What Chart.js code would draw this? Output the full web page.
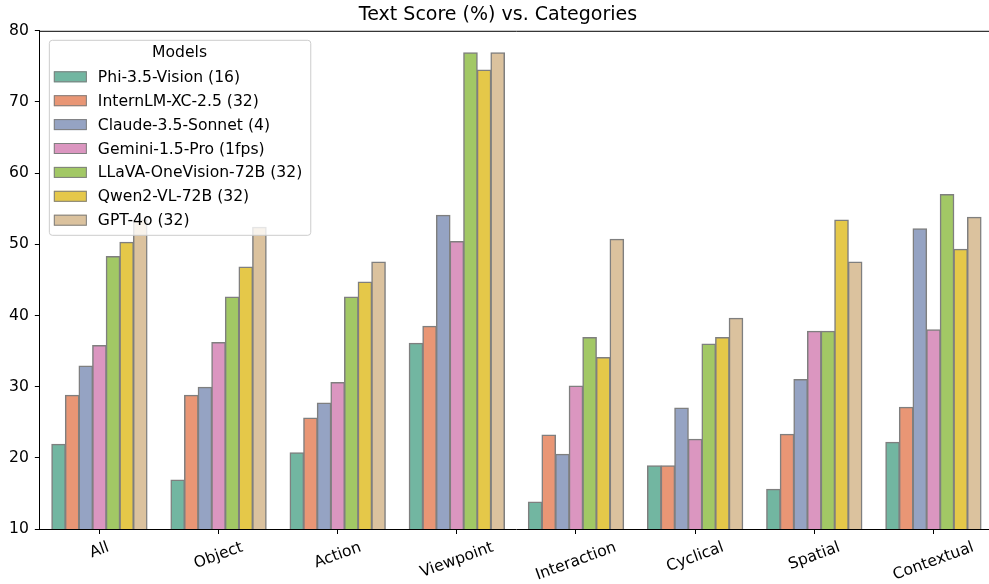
<!DOCTYPE html>
<html>
<head>
<meta charset="utf-8">
<title>Text Score (%) vs. Categories</title>
<script src="https://cdn.jsdelivr.net/npm/chart.js@4.4.0/dist/chart.umd.min.js"></script>
<style>
  html, body { margin: 0; padding: 0; background: #fff; overflow: hidden; }
  #wrap { width: 995px; height: 584px; }
</style>
</head>
<body>
<div id="wrap"><canvas id="chart" width="995" height="584"></canvas></div>
<script>
// data
const categories = ['All', 'Object', 'Action', 'Viewpoint', 'Interaction', 'Cyclical', 'Spatial', 'Contextual'];
const models = ['Phi-3.5-Vision (16)', 'InternLM-XC-2.5 (32)', 'Claude-3.5-Sonnet (4)', 'Gemini-1.5-Pro (1fps)',
  'LLaVA-OneVision-72B (32)', 'Qwen2-VL-72B (32)', 'GPT-4o (32)'];
const yTicks = [10, 20, 30, 40, 50, 60, 70, 80];

const phi      = [21.9, 16.9, 20.7, 36.1, 13.8, 18.9, 15.6, 22.2];
const internlm = [28.8, 28.8, 25.6, 38.5, 23.2, 18.9, 23.3, 27.1];
const claude   = [32.9, 29.9, 27.7, 54.1, 20.5, 27.0, 31.0, 52.2];
const gemini   = [35.8, 36.2, 30.6, 50.4, 30.1, 22.6, 37.8, 38.0];
const llava    = [48.3, 42.6, 42.6, 76.9, 36.9, 36.0, 37.8, 57.0];
const qwen     = [50.3, 46.8, 44.7, 74.5, 34.1, 36.9, 53.4, 49.3];
const gpt4o    = [53.4, 52.4, 47.5, 76.9, 50.7, 39.6, 47.5, 53.8];

const seriesValues = [phi, internlm, claude, gemini, llava, qwen, gpt4o];
// seaborn Set2, desaturated
const colors = ['#72b6a1', '#e99675', '#95a3c3', '#db96c0', '#a2c865', '#e5c849', '#dbc29e'];
const edge = '#7f7f7f';
const FONT = '"DejaVu Sans", sans-serif';
const FS = 15.6;

// rotated category labels, centred on the ticks like matplotlib
const xLabels = {
  id: 'xLabels',
  afterDraw(chart) {
    const ctx = chart.ctx, xs = chart.scales.x, area = chart.chartArea;
    const ang = 20 * Math.PI / 180;
    ctx.save();
    ctx.font = FS + 'px ' + FONT;
    ctx.fillStyle = '#000';
    ctx.textAlign = 'center';
    ctx.textBaseline = 'middle';
    categories.forEach((c, i) => {
      const w = ctx.measureText(c).width, h = 17;
      const cy = area.bottom + 10 + (w * Math.sin(ang) + h * Math.cos(ang)) / 2;
      ctx.save();
      ctx.translate(xs.getPixelForTick(i), cy);
      ctx.rotate(-ang);
      ctx.fillText(c, 0, 0);
      ctx.restore();
    });
    ctx.restore();
  }
};

// top spine + legend box on top of the bars
const frameAndLegend = {
  id: 'frameAndLegend',
  afterDraw(chart) {
    const ctx = chart.ctx, area = chart.chartArea;
    ctx.save();
    ctx.strokeStyle = '#000';
    ctx.lineWidth = 1;
    ctx.beginPath();
    ctx.moveTo(area.left, area.top + 0.5);
    ctx.lineTo(area.right, area.top + 0.5);
    ctx.stroke();

    ctx.font = FS + 'px ' + FONT;
    const maxW = Math.max(...models.map(m => ctx.measureText(m).width));
    const bx = area.left + 9, by = area.top + 9;
    const bw = 49 + maxW + 8, bh = 195;
    ctx.fillStyle = 'rgba(255,255,255,0.8)';
    ctx.strokeStyle = '#cccccc';
    ctx.beginPath();
    ctx.roundRect(bx + 0.5, by + 0.5, bw, bh, 3);
    ctx.fill();
    ctx.stroke();

    ctx.fillStyle = '#000';
    ctx.textBaseline = 'middle';
    ctx.textAlign = 'center';
    ctx.fillText('Models', bx + bw / 2, by + 13);
    ctx.textAlign = 'left';
    models.forEach((m, i) => {
      const cy = by + 37 + i * 23.9;
      ctx.fillStyle = colors[i];
      ctx.fillRect(bx + 5, cy - 5.5, 33, 11);
      ctx.strokeStyle = edge;
      ctx.strokeRect(bx + 5.5, cy - 5, 32, 10);
      ctx.fillStyle = '#000';
      ctx.fillText(m, bx + 49, cy + 1);
    });
    ctx.restore();
  }
};

const datasets = models.map((m, i) => ({
  label: m,
  data: seriesValues[i],
  backgroundColor: colors[i],
  borderColor: edge,
  borderWidth: 1.5,
  borderSkipped: false,
  inflateAmount: 0.5,
  categoryPercentage: 0.8,
  barPercentage: 1.0,
}));

new Chart(document.getElementById('chart').getContext('2d'), {
  type: 'bar',
  data: { labels: categories, datasets: datasets },
  plugins: [xLabels, frameAndLegend],
  options: {
    responsive: false,
    animation: false,
    devicePixelRatio: 1,
    layout: { padding: { left: 3, right: 2, top: 0, bottom: 50 } },
    plugins: {
      legend: { display: false },
      tooltip: { enabled: false },
      title: {
        display: true,
        text: 'Text Score (%) vs. Categories',
        color: '#000',
        font: { family: FONT, size: 19, weight: 'normal' },
        padding: { top: 4, bottom: 4 },
      },
    },
    scales: {
      x: {
        offset: true,
        grid: { offset: false, drawOnChartArea: false, drawTicks: true, tickLength: 5, color: '#000' },
        border: { display: true, color: '#000', width: 1 },
        ticks: { display: false },
      },
      y: {
        min: yTicks[0],
        max: yTicks[yTicks.length - 1],
        afterBuildTicks: (scale) => { scale.ticks = yTicks.map(v => ({ value: v })); },
        grid: { drawOnChartArea: false, drawTicks: true, tickLength: 5, color: '#000' },
        border: { display: true, color: '#000', width: 1 },
        ticks: { color: '#000', padding: 6, font: { family: FONT, size: FS } },
      },
    },
  },
});
</script>
</body>
</html>
